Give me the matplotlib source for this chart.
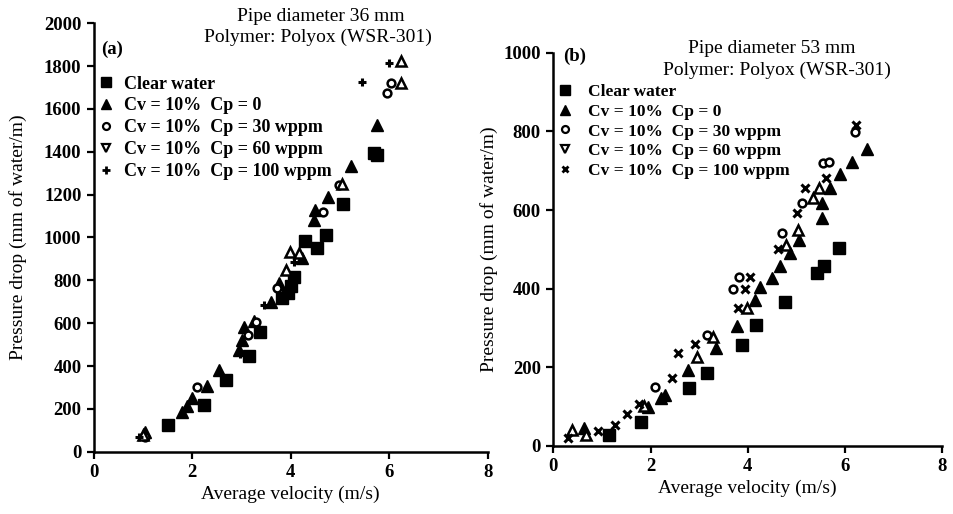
import matplotlib
matplotlib.use("Agg")
import matplotlib.pyplot as plt
from matplotlib.lines import Line2D

plt.rcParams['font.family'] = ['Liberation Serif', 'DejaVu Serif']

# ---- panel (a): pipe 36 mm ----
a_water_v = [1.51, 2.24, 2.69, 3.15, 3.37, 3.83, 3.95, 4.00, 4.07, 4.29, 4.53, 4.72, 5.07, 5.69, 5.76]
a_water_p = [125, 218, 335, 447, 560, 716, 739, 773, 817, 984, 952, 1012, 1156, 1393, 1385]
a_cp0_v = [1.03, 1.78, 1.90, 2.00, 2.30, 2.54, 2.95, 3.00, 3.05, 3.25, 3.59, 3.76, 4.22, 4.47, 4.49, 4.76, 5.22, 5.76]
a_cp0_p = [93, 187, 213, 249, 307, 381, 475, 520, 584, 612, 700, 789, 903, 1082, 1128, 1188, 1334, 1525]
a_cp30_v = [1.04, 2.10, 3.14, 3.30, 3.73, 4.66, 4.97, 5.96, 6.03]
a_cp30_p = [67, 300, 545, 607, 763, 1120, 1245, 1673, 1720]
a_cp60_v = [1.00, 3.90, 3.99, 4.17, 5.04, 6.23, 6.23]
a_cp60_p = [78, 848, 934, 929, 1248, 1720, 1825]
a_cp100_v = [0.91, 2.97, 3.46, 4.07, 5.44, 6.00]
a_cp100_p = [67, 455, 685, 887, 1727, 1813]

# ---- panel (b): pipe 53 mm ----
b_water_v = [1.15, 1.80, 2.79, 3.16, 3.88, 4.17, 4.77, 5.42, 5.57, 5.88]
b_water_p = [28, 62, 147, 186, 257, 308, 367, 439, 458, 503]
b_cp0_v = [0.64, 1.95, 2.22, 2.30, 2.77, 3.35, 3.79, 4.15, 4.25, 4.49, 4.66, 4.88, 5.06, 5.52, 5.52, 5.69, 5.90, 6.14, 6.46]
b_cp0_p = [45, 98, 121, 130, 193, 248, 305, 371, 405, 426, 458, 491, 524, 579, 617, 655, 692, 723, 754]
b_cp30_v = [2.09, 3.16, 3.70, 3.83, 4.70, 5.11, 5.54, 5.68, 6.21]
b_cp30_p = [151, 282, 398, 429, 541, 619, 720, 723, 799]
b_cp60_v = [0.39, 0.67, 1.87, 2.95, 3.29, 3.98, 4.79, 5.04, 5.35, 5.47]
b_cp60_p = [41, 28, 102, 227, 278, 350, 511, 549, 630, 655]
b_cp100_v = [0.31, 0.91, 1.26, 1.51, 1.76, 2.44, 2.56, 2.92, 3.81, 3.94, 4.05, 4.63, 5.01, 5.18, 5.61, 6.23]
b_cp100_p = [20, 38, 53, 81, 108, 172, 237, 259, 350, 398, 429, 500, 593, 655, 681, 816]

labels = ['Clear water', 'Cv = 10%  Cp = 0', 'Cv = 10%  Cp = 30 wppm',
          'Cv = 10%  Cp = 60 wppm', 'Cv = 10%  Cp = 100 wppm']

fig = plt.figure(figsize=(9.54, 5.14), dpi=100)
ax1 = fig.add_axes([0.0985, 0.1212, 0.4126, 0.8335])
ax2 = fig.add_axes([0.58, 0.1323, 0.4075, 0.7652])


def draw(ax, series, last_marker, ms):
    (wv, wp), (c0v, c0p), (c30v, c30p), (c60v, c60p), (c100v, c100p) = series
    ax.plot(wv, wp, 's', color='black', ms=ms, ls='none', clip_on=False)
    ax.plot(c0v, c0p, '^', color='black', ms=ms, ls='none', clip_on=False)
    ax.plot(c30v, c30p, 'o', mfc='white', mec='black', mew=1.8, ms=ms * 0.7, ls='none', clip_on=False)
    ax.plot(c60v, c60p, '^', mfc='white', mec='black', mew=1.8, ms=ms * 0.85, ls='none', clip_on=False)
    if last_marker == '+':
        ax.plot(c100v, c100p, '+', color='black', mew=2.2, ms=ms * 0.8, ls='none', clip_on=False)
    else:
        ax.plot(c100v, c100p, 'x', color='black', mew=2.2, ms=ms * 0.65, ls='none', clip_on=False)


def legend_handles(last_marker):
    h = [Line2D([], [], marker='s', color='black', ls='none', ms=6.5),
         Line2D([], [], marker='^', color='black', ls='none', ms=7),
         Line2D([], [], marker='o', mfc='white', mec='black', mew=1.6, ls='none', ms=5),
         Line2D([], [], marker='v', mfc='white', mec='black', mew=1.6, ls='none', ms=6)]
    if last_marker == '+':
        h.append(Line2D([], [], marker='+', color='black', mew=2, ls='none', ms=6))
    else:
        h.append(Line2D([], [], marker='x', color='black', mew=2, ls='none', ms=4.5))
    return h


draw(ax1, [(a_water_v, a_water_p), (a_cp0_v, a_cp0_p), (a_cp30_v, a_cp30_p),
           (a_cp60_v, a_cp60_p), (a_cp100_v, a_cp100_p)], '+', 8)
draw(ax2, [(b_water_v, b_water_p), (b_cp0_v, b_cp0_p), (b_cp30_v, b_cp30_p),
           (b_cp60_v, b_cp60_p), (b_cp100_v, b_cp100_p)], 'x', 8)

for ax, ymax, ystep in [(ax1, 2000, 200), (ax2, 1000, 200)]:
    ax.set_xlim(0, 8)
    ax.set_ylim(0, ymax)
    ax.set_xticks(range(0, 9, 2))
    ax.set_yticks(range(0, ymax + 1, ystep))
    ax.spines['top'].set_visible(False)
    ax.spines['right'].set_visible(False)
    for s in ('left', 'bottom'):
        ax.spines[s].set_linewidth(1.8)
    ax.tick_params(direction='out', length=5, width=1.6, labelsize=13.5, pad=4)
    for t in ax.get_xticklabels() + ax.get_yticklabels():
        t.set_fontweight('bold')
    ax.set_xlabel('Average velocity (m/s)', fontsize=14, labelpad=3)

ax1.set_ylabel('Pressure drop (mm of water/m)', fontsize=14, labelpad=12)
ax2.set_ylabel('Pressure drop (mm of water/m)', fontsize=14, labelpad=4)

ax1.legend(legend_handles('+'), labels, loc='upper left', bbox_to_anchor=(0.008, 0.878),
           frameon=False, prop={'weight': 'bold', 'size': 13}, handlelength=1.0,
           handletextpad=0.5, labelspacing=0.27, borderpad=0, borderaxespad=0)
ax2.legend(legend_handles('x'), labels, loc='upper left', bbox_to_anchor=(0.009, 0.92),
           frameon=False, prop={'weight': 'bold', 'size': 12.5}, handlelength=1.0,
           handletextpad=0.8, labelspacing=0.2, borderpad=0, borderaxespad=0)

ax1.text(0.046, 0.94, '(a)', transform=ax1.transAxes, fontsize=13.5, fontweight='bold',
         ha='center', va='center')
ax2.text(0.056, 0.99, '(b)', transform=ax2.transAxes, fontsize=13.5, fontweight='bold',
         ha='center', va='center')

fig.text(0.336, 0.967, 'Pipe diameter 36 mm', fontsize=14, ha='center', va='center')
fig.text(0.333, 0.928, 'Polymer: Polyox (WSR-301)', fontsize=14, ha='center', va='center')
fig.text(0.809, 0.905, 'Pipe diameter 53 mm', fontsize=14, ha='center', va='center')
fig.text(0.814, 0.864, 'Polymer: Polyox (WSR-301)', fontsize=14, ha='center', va='center')

fig.savefig('out.png', dpi=100)
